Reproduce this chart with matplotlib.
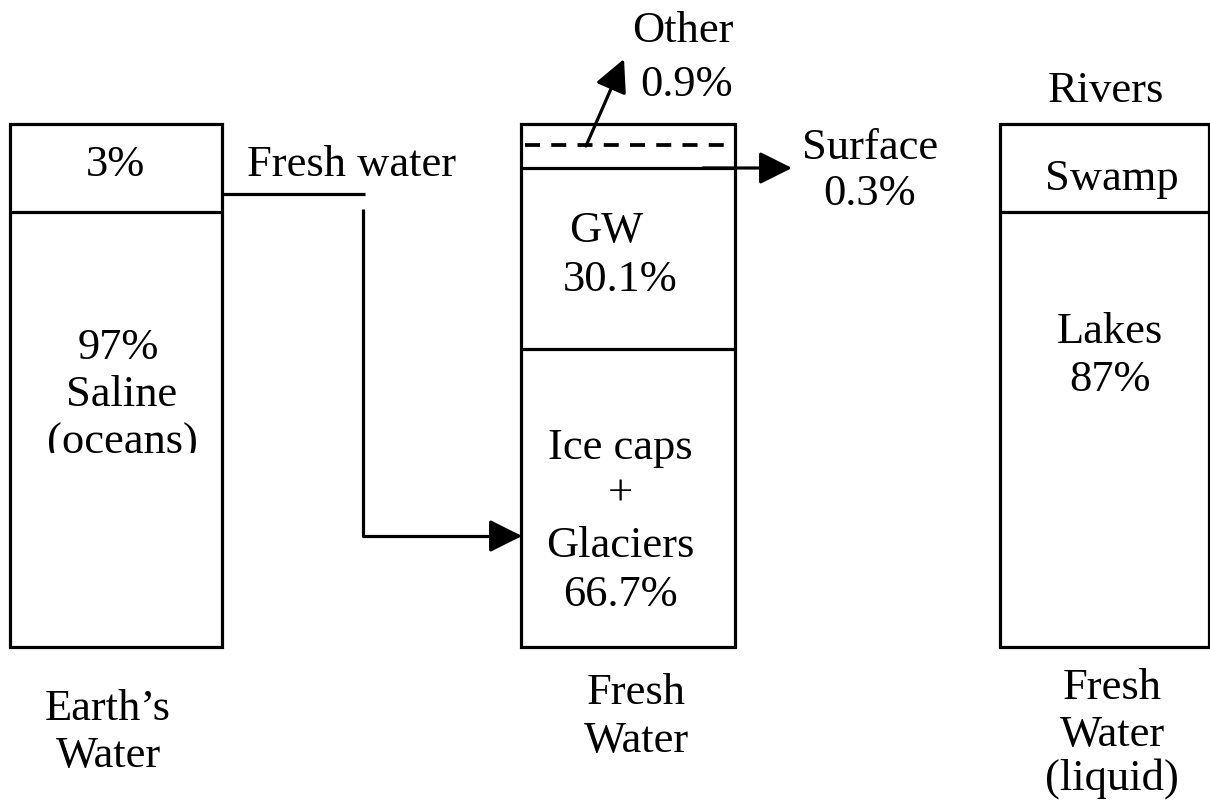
import matplotlib
matplotlib.use("Agg")
import matplotlib.pyplot as plt
from matplotlib.patches import Rectangle

plt.rcParams["font.family"] = ["Liberation Serif", "DejaVu Serif"]

# data: share of each compartment (%)
earth_labels = ["Fresh water", "Saline (oceans)"]
earth_values = [3, 97]
fresh_labels = ["Other", "Surface", "GW", "Ice caps + Glaciers"]
fresh_values = [0.9, 0.3, 30.1, 66.7]
liquid_labels = ["Rivers", "Swamp", "Lakes"]
liquid_values = [None, None, 87]

# layout in pixel coordinates (schematic, not to scale)
W, H = 1210, 803
TOP, BOT = 125, 648
LW = 2.3
FS = 32
ARROW = dict(arrowstyle="-|>,head_length=1.0,head_width=0.5",
             color="black", lw=LW, mutation_scale=20, shrinkA=0, shrinkB=0)

fig = plt.figure(figsize=(W / 100, H / 100), dpi=100)
ax = fig.add_axes([0, 0, 1, 1])
ax.set_xlim(0, W)
ax.set_ylim(H, 0)
ax.axis("off")


def box(x0, x1, dividers):
    r = Rectangle((x0, TOP), x1 - x0, BOT - TOP, fill=False, lw=LW, ec="black")
    ax.add_patch(r)
    for y in dividers:
        ax.plot([x0, x1], [y, y], color="black", lw=LW, solid_capstyle="butt")
    return r


def txt(x, y, s, **kw):
    # +3 px: va="center" sits slightly high for this font
    return ax.text(x, y + 3, s, ha="center", va="center", fontsize=kw.pop("fs", FS), **kw)


# --- Earth's water column
box(10, 222, [213])
txt(115, 162, f"{earth_values[0]}%")
txt(118, 345, f"{earth_values[1]}%")
txt(122, 392, "Saline")
oc = txt(122, 440, "(oceans)")
clip = Rectangle((10, 300), 212, 154, transform=ax.transData)
oc.set_clip_path(clip)
oc.set_clip_on(True)
txt(108, 706, "Earth\u2019s")
txt(108, 753, "Water")

# fresh water connector
txt(352, 162, earth_labels[0])
ax.plot([222, 365], [195, 195], color="black", lw=LW, solid_capstyle="butt")
ax.plot([363, 363, 500], [210, 537, 537], color="black", lw=LW, solid_capstyle="butt")
ax.annotate("", xy=(522, 537), xytext=(495, 537), arrowprops=ARROW)

# --- Fresh water column
box(521, 735, [169, 350])
ax.plot([525, 732], [146, 146], color="black", lw=LW + 0.4, ls=(0, (4, 3)))
txt(606, 228, "GW")
txt(620, 277, f"{fresh_values[2]}%")
txt(620, 445, "Ice caps")
txt(620, 492, "+")
txt(620, 543, "Glaciers")
txt(620, 592, f"{fresh_values[3]}%")
txt(636, 690, "Fresh")
txt(636, 738, "Water")

# other arrow
ax.annotate("", xy=(624, 60), xytext=(586, 147), arrowprops=ARROW)
txt(683, 28, fresh_labels[0])
txt(687, 82, f"{fresh_values[0]}%")

# surface arrow
ax.annotate("", xy=(792, 169), xytext=(703, 169), arrowprops=ARROW)
txt(870, 145, fresh_labels[1])
txt(870, 191, f"{fresh_values[1]}%")

# --- Liquid fresh water column
box(1000, 1209, [213])
txt(1106, 88, liquid_labels[0])
txt(1112, 176, liquid_labels[1])
txt(1110, 329, liquid_labels[2])
txt(1110, 377, f"{liquid_values[2]}%")
txt(1112, 685, "Fresh")
txt(1112, 732, "Water")
txt(1112, 776, "(liquid)")

fig.savefig("out.png", dpi=100, facecolor="white")
